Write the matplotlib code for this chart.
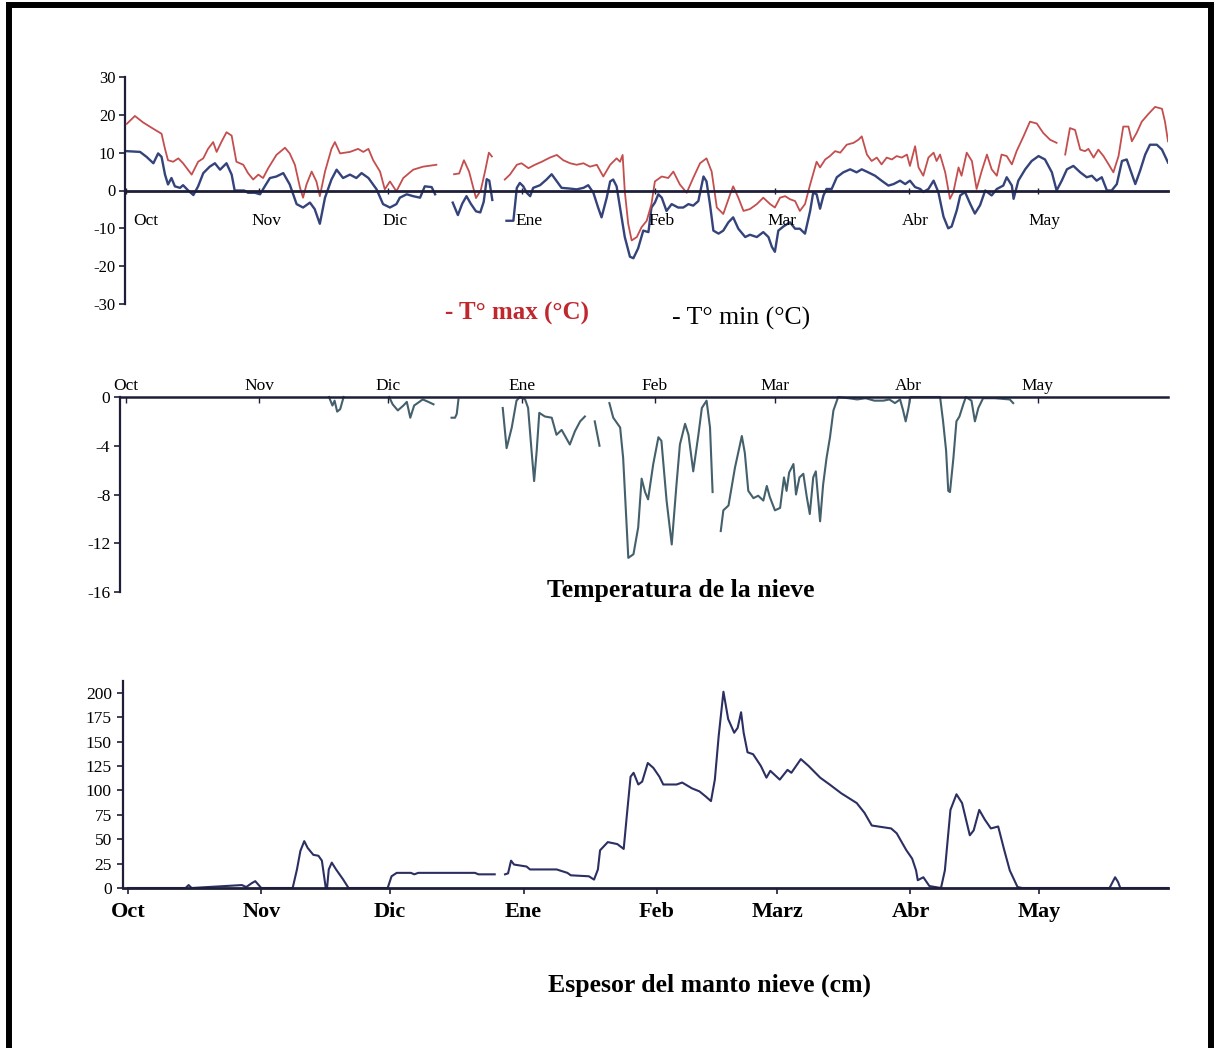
import numpy as np
import matplotlib
matplotlib.use("Agg")
import matplotlib.pyplot as plt
from matplotlib.patches import Rectangle
from matplotlib.transforms import ScaledTranslation

W, H = 1220, 1048
plt.rcParams['font.family'] = ['Liberation Serif', 'DejaVu Serif']
plt.rcParams['axes.unicode_minus'] = False

GAP = np.nan

# ---- time axis: days counted from 1 October ----
month_start = [0, 31, 61, 92, 123, 151, 182, 212]
month_names = ['Oct', 'Nov', 'Dic', 'Ene', 'Feb', 'Mar', 'Abr', 'May']
month_names_depth = ['Oct', 'Nov', 'Dic', 'Ene', 'Feb', 'Marz', 'Abr', 'May']

# ---- daily maximum air temperature (°C) ----
tmax_day = [0.2, 2.1, 4.0, 6.4, 8.3, 9.1, 9.8, 11.0, 12.2, 13.3,
            15.3, 16.8, 18.0, 19.1, 20.3, 21.1, 22.2, 23.4, 24.6, 25.7,
            27.3, 28.4, 29.6, 30.8, 31.9, 33.1, 35.0, 37.0, 38.1, 39.3,
            40.5, 41.2, 42.0, 43.2, 44.3, 45.1, 46.3, 47.8, 48.6, 49.8,
            52.1, 54.0, 55.2, 56.4, 57.5, 59.1, 60.2, 61.4, 62.9, 64.5,
            66.8, 69.1, 72.2,
            74.0,
            76.3, 77.5, 78.6, 79.8, 81.4, 82.5, 83.5, 84.4, 85.1,
            86.5,
            88.1, 89.3, 90.9, 92.0, 93.6, 95.1, 96.7, 98.6, 100.2, 101.7,
            103.3, 104.8, 106.4, 107.9, 109.5, 111.0, 112.6, 114.1, 114.9, 115.5,
            116.0, 116.8, 117.6, 118.8, 119.9, 121.1, 122.2, 123.0, 124.6, 126.1,
            127.3, 128.8, 130.4, 131.9, 133.5, 135.0, 136.2, 137.4, 138.9, 140.5,
            141.2, 142.4, 143.6, 145.1, 146.7, 148.2, 149.8, 150.9, 152.1, 153.3,
            154.4, 155.6, 156.7, 157.9, 159.1, 160.6, 161.4, 162.6, 163.7, 164.9,
            166.1, 167.6, 169.2, 170.3, 171.1, 172.3, 173.4, 174.6, 175.7, 176.9,
            178.1, 179.2, 180.4, 181.6, 182.3, 183.5, 184.3, 185.4, 186.6, 187.8,
            188.5, 189.3, 190.5, 191.6, 192.4, 193.6, 194.3, 195.5, 196.7, 197.8,
            199.0, 200.2, 201.3, 202.5, 203.6, 204.8, 206.0, 207.1, 208.7, 210.2,
            211.8, 213.3, 214.9, 216.4,
            217.4,
            218.4, 219.5, 220.7, 221.9, 223.0, 223.8, 225.0, 226.1, 227.3, 228.5,
            229.6, 230.8, 231.9, 233.1, 233.9, 235.0, 236.2, 237.8, 239.3, 240.9,
            241.6, 242.3]
tmax_val = [17.6, 19.7, 18.0, 16.3, 15.0, 11.0, 8.0, 7.6, 8.5, 7.2,
            4.2, 7.6, 8.5, 11.0, 12.8, 10.2, 12.8, 15.4, 14.5, 7.6,
            6.8, 4.6, 2.9, 4.2, 3.3, 5.9, 9.4, 11.3, 9.8, 6.8,
            0.7, -1.9, 1.6, 5.0, 2.4, -1.5, 5.0, 11.0, 12.8, 9.8,
            10.2, 11.0, 10.2, 11.0, 8.0, 5.0, 0.3, 2.4, -0.2, 3.3,
            5.5, 6.3, 6.8,
            GAP,
            4.3, 4.5, 8.0, 5.0, -2.0, 0.0, 5.0, 10.0, 9.0,
            GAP,
            2.9, 4.2, 6.8, 7.2, 5.9, 6.8, 7.6, 8.7, 9.4, 8.0,
            7.2, 6.8, 7.2, 6.3, 6.8, 3.7, 6.8, 8.5, 7.6, 9.4,
            -0.2, -8.8, -13.2, -12.3, -9.7, -8.0, -3.6, 2.4, 3.7, 3.3,
            5.0, 1.6, -0.6, 3.3, 7.2, 8.5, 5.0, -4.5, -6.2, -1.0,
            1.1, -1.9, -5.4, -4.9, -3.6, -1.9, -3.6, -4.5, -1.9, -1.5,
            -2.3, -2.8, -5.4, -3.6, 1.6, 7.6, 6.1, 8.2, 9.1, 10.4,
            10.0, 12.1, 12.6, 13.4, 14.3, 9.5, 7.8, 8.7, 6.9, 8.7,
            8.2, 9.1, 8.7, 9.5, 6.5, 11.7, 6.1, 3.9, 8.7, 10.0,
            7.8, 9.5, 4.8, -2.2, -0.4, 6.1, 3.9, 10.0, 7.8, 0.4,
            5.2, 9.5, 5.6, 3.9, 9.5, 9.1, 6.9, 10.4, 14.3, 18.2,
            17.7, 15.2, 13.4, 12.6,
            GAP,
            9.5, 16.5, 16.0, 10.8, 10.4, 11.0, 8.7, 10.8, 9.1, 6.9,
            4.8, 9.1, 16.9, 16.9, 13.0, 15.2, 18.2, 20.3, 22.1, 21.6,
            18.2, 13.0]

# ---- daily minimum air temperature (°C) ----
tmin_day = [0.2, 3.3, 4.8, 6.4, 7.5, 8.3, 9.1, 9.8, 10.6, 11.4,
            12.6, 13.3, 14.5, 15.7, 16.8, 18.0, 19.5, 20.7, 21.9, 23.4,
            24.6, 25.3, 26.5, 27.5, 28.4, 30.0, 31.2, 32.3, 33.5, 35.0,
            36.6, 38.1, 39.7, 41.2, 42.8, 43.9, 45.1, 46.3, 47.8, 49.0,
            50.5, 52.1, 53.6, 54.8, 56.4, 58.3, 59.8, 61.4, 62.9, 63.7,
            65.3, 66.8, 68.4, 69.5, 71.1, 71.9,
            74.0,
            76.0, 77.2, 78.2, 79.2, 80.2, 81.4, 82.4, 83.2, 83.9, 84.5, 85.2,
            86.8,
            88.5, 90.1, 90.9, 91.6, 92.4, 93.2, 94.0, 94.7, 96.3, 97.8,
            99.0, 100.2, 101.3, 103.3, 104.8, 106.4, 107.5, 108.7, 109.8, 110.6,
            111.8, 112.6, 113.3, 114.1, 114.9, 116.0, 117.2, 118.0, 119.1, 120.3,
            121.5, 122.2, 123.0, 123.8, 124.6, 125.7, 126.9, 128.4, 129.6, 130.8,
            131.9, 133.1, 134.3, 135.0, 135.8, 136.6, 137.8, 138.9, 140.1, 141.2,
            142.4, 144.0, 145.1, 146.7, 148.2, 149.4, 150.2, 150.9, 151.7, 152.9,
            154.4, 155.6, 156.7, 157.9, 159.1, 159.8, 160.6, 161.4, 162.2, 162.9,
            164.1, 165.3, 166.8, 168.4, 169.9, 171.1, 172.6, 174.2, 175.7, 177.3,
            178.5, 180.0, 181.2, 182.3, 183.5, 184.7, 185.4, 186.6, 187.8, 188.9,
            190.1, 191.2, 192.0, 193.2, 194.0, 195.1, 196.3, 197.4, 198.6, 199.8,
            201.3, 202.5, 204.0, 204.8, 206.0, 206.4, 207.5, 209.1, 210.6, 212.2,
            213.7, 215.3, 216.4, 217.6, 218.8, 220.3, 221.9, 223.4, 224.6, 225.7,
            226.9, 228.1, 229.2, 230.4, 231.6, 232.7, 233.9, 234.7, 235.8, 237.0,
            238.1, 239.7, 240.9, 242.3]
tmin_val = [10.4, 10.2, 8.9, 7.2, 9.8, 8.9, 4.2, 1.6, 3.3, 1.1,
            0.7, 1.4, 0.0, -1.2, 1.1, 4.6, 6.3, 7.2, 5.5, 7.2,
            4.2, 0.0, 0.0, 0.0, -0.6, -0.6, -1.0, 1.1, 3.3, 3.7,
            4.6, 1.6, -3.6, -4.5, -3.2, -4.9, -8.8, -1.9, 2.9, 5.5,
            3.3, 4.2, 3.3, 4.6, 3.3, 0.3, -3.6, -4.5, -3.6, -1.9,
            -1.0, -1.5, -1.9, 1.1, 0.9, -1.0,
            GAP,
            -3.2, -6.5, -3.5, -1.5, -3.5, -5.5, -5.8, -3.0, 3.0, 2.6, -2.5,
            GAP,
            -8.0, -8.0, 0.7, 2.0, 1.1, -0.6, -1.5, 0.7, 1.4, 2.9,
            4.3, 2.4, 0.7, 0.5, 0.3, 0.7, 1.4, -0.6, -4.5, -7.1,
            -1.9, 2.4, 2.9, 1.1, -4.5, -12.3, -17.5, -17.9, -15.3, -10.6,
            -11.0, -4.5, -3.2, -1.0, -1.9, -5.4, -3.6, -4.5, -4.5, -3.6,
            -4.0, -2.8, 3.7, 2.4, -3.6, -10.6, -11.4, -10.6, -8.4, -7.1,
            -10.1, -12.3, -11.7, -12.3, -11.0, -12.3, -14.9, -16.2, -10.6, -9.5,
            -8.4, -10.1, -10.1, -11.4, -5.4, -0.6, -1.0, -4.8, -1.3, 0.4,
            0.4, 3.5, 4.8, 5.6, 4.8, 5.6, 4.8, 3.9, 2.6, 1.3,
            1.7, 2.6, 1.7, 2.6, 0.9, 0.4, -0.4, 0.4, 2.6, -0.4,
            -6.9, -10.0, -9.5, -5.2, -1.3, -0.4, -3.5, -6.1, -3.9, 0.0,
            -1.3, 0.4, 1.3, 3.5, 1.3, -2.2, 2.6, 5.6, 7.8, 9.1,
            8.2, 4.8, 0.0, 2.6, 5.6, 6.5, 4.8, 3.5, 3.9, 2.6,
            3.5, 0.0, 0.0, 1.7, 7.8, 8.2, 4.3, 1.7, 5.2, 9.5,
            12.1, 12.1, 10.8, 7.4]

# ---- snow temperature (°C) ----
snowt_day = [47.2, 48.0, 48.5, 49.1, 49.8, 50.6,
             55.0,
             61.2, 62.0, 63.2, 64.5, 65.3, 66.1, 67.0, 68.2, 69.0, 70.3, 71.5,
             73.5,
             75.7, 76.5, 76.9, 77.3,
             82.0,
             87.6, 88.5, 89.7, 90.8, 91.6, 92.8, 93.5, 94.3, 94.9, 95.5,
             96.1, 97.4, 99.0, 100.1, 101.3, 103.2, 104.4, 105.6, 106.7,
             107.8,
             109.0, 110.1,
             111.2,
             112.4, 113.3, 114.9, 115.6, 116.4, 116.8, 118.0, 119.1, 119.9, 120.7,
             121.4, 122.6, 123.8, 124.5, 125.7, 126.9, 128.0, 128.8, 130.0, 130.8,
             131.9, 133.1, 133.9, 135.0, 135.8, 136.4,
             137.3,
             138.3, 138.9, 140.1, 141.6, 143.2, 143.9, 144.7, 145.9, 147.0, 148.2,
             149.0, 149.7, 150.9, 152.1, 153.0, 153.6, 154.2, 155.2, 155.8, 156.6,
             157.5, 158.3, 159.0, 159.8, 160.4, 161.4, 162.1, 162.9, 163.7, 164.5,
             165.6, 168.0, 170.0, 172.0, 174.0, 176.1, 177.5, 178.8, 180.0, 180.7,
             181.3, 181.9, 182.4, 186.0, 189.3, 190.0, 190.7, 191.2, 191.6, 192.4,
             193.1, 193.8, 194.7, 195.3, 196.6, 197.4, 198.2, 199.3, 202.0, 205.5,
             206.3]
snowt_val = [0.0, -0.7, -0.3, -1.2, -1.0, 0.0,
             GAP,
             0.0, -0.6, -1.1, -0.7, -0.4, -1.7, -0.7, -0.4, -0.2, -0.4, -0.6,
             GAP,
             -1.7, -1.7, -1.4, -0.2,
             GAP,
             -0.9, -4.2, -2.5, -0.3, 0.0, -0.2, -0.9, -4.4, -6.9, -4.4,
             -1.3, -1.6, -1.7, -3.1, -2.7, -3.9, -2.8, -2.0, -1.6,
             GAP,
             -2.0, -4.0,
             GAP,
             -0.5, -1.7, -2.5, -5.0, -10.4, -13.2, -12.9, -10.7, -6.7, -7.8,
             -8.4, -5.5, -3.3, -3.6, -8.5, -12.1, -7.2, -3.9, -2.2, -3.1,
             -6.1, -3.1, -0.9, -0.3, -2.5, -7.8,
             GAP,
             -11.0, -9.3, -8.9, -5.8, -3.2, -4.6, -7.7, -8.3, -8.1, -8.5,
             -7.3, -8.2, -9.3, -9.1, -6.6, -7.7, -6.2, -5.5, -8.0, -6.6,
             -6.3, -8.2, -9.6, -6.6, -6.1, -10.2, -7.2, -5.0, -3.3, -1.1,
             0.0, -0.1, -0.2, -0.1, -0.3, -0.3, -0.2, -0.5, -0.2, -1.1,
             -2.0, -1.0, 0.0, 0.0, 0.0, -2.0, -4.4, -7.7, -7.8, -5.0,
             -2.0, -1.6, -0.6, 0.0, -0.3, -2.0, -0.9, -0.1, -0.1, -0.2,
             -0.5]

# ---- snow depth (cm) ----
depth_day = [0.0, 13.4, 14.1, 14.8, 26.5, 27.5, 28.8, 29.6, 30.4, 31.0,
             38.3, 39.3, 40.1, 41.0, 41.8, 43.1, 44.3, 45.1, 46.0, 46.3,
             46.7, 47.4, 48.4, 50.0, 51.3, 60.4, 61.3, 62.5, 65.8, 66.6,
             67.5, 80.7, 81.5, 85.3,
             86.5,
             87.7, 88.4, 89.1, 89.8, 92.7, 93.5, 99.7, 102.2, 103.0, 107.2,
             108.4, 109.3, 109.8, 111.6, 113.8, 115.3, 116.0, 116.9, 117.6, 118.7,
             119.6, 120.9, 122.2, 123.6, 124.5, 127.6, 128.9, 131.2, 132.9, 134.3,
             135.6, 136.5, 137.4, 138.5, 139.6, 141.0, 141.8, 142.6, 143.2, 144.1,
             145.4, 147.2, 148.5, 149.4, 151.6, 153.4, 154.3, 156.5, 158.3, 161.0,
             163.2, 165.9, 169.5, 171.3, 173.0, 177.5, 178.8, 181.0, 182.4, 183.3,
             183.7, 185.0, 186.4, 189.1, 190.0, 191.3, 192.7, 194.0, 195.8, 196.7,
             198.0, 199.3, 200.7, 202.4, 203.8, 205.1, 206.9, 208.0, 228.3, 229.0,
             229.6, 230.3, 230.8, 241.9]
depth_val = [0, 0, 3, 0, 3, 1, 5, 7, 3, 0,
             0, 19, 38, 48, 41, 34, 33, 28, 0, 0,
             19, 26, 19, 9, 0, 0, 12, 15.5, 15.5, 14,
             15.5, 15.5, 14, 14,
             GAP,
             14, 15, 28, 24, 22, 19, 19, 15.5, 13, 12,
             8.6, 19, 38.6, 47, 45, 40, 73, 114, 118, 106,
             109, 128, 123, 114, 106, 106, 108, 102, 99, 94,
             89, 111, 156, 201, 173, 159, 164, 180, 159, 139,
             137, 125, 113, 120, 111, 121, 118, 132, 125, 113,
             106, 97, 87, 77, 64, 61, 56, 39, 30, 18,
             8, 11, 2, 0, 18, 80, 96, 87, 54, 59,
             80, 70, 61, 63, 39, 18, 1, 0, 0, 6,
             11, 6, 0, 0]

# ---- colours ----
RED = '#c44e4e'
NAVY = '#34437a'
AXIS = '#1e1e38'
SNOWT = '#44606c'
DEPTH = '#2b2f62'

fig = plt.figure(figsize=(W / 100, H / 100), dpi=100)
fig.patch.set_facecolor('white')


def axes_px(left, top, right, bottom):
    return fig.add_axes([left / W, 1 - bottom / H, (right - left) / W, (bottom - top) / H])


def shift(ax, dx_px):
    return ax.transData + ScaledTranslation(dx_px / 100, 0, fig.dpi_scale_trans)


# ================= air temperature =================
ax1 = axes_px(125, 77, 1168, 304)
ax1.set_xlim(-0.2, 242.3)
ax1.set_ylim(-30, 30)
for s in ('top', 'right'):
    ax1.spines[s].set_visible(False)
ax1.spines['left'].set_color(AXIS)
ax1.spines['left'].set_linewidth(1.6)
ax1.spines['bottom'].set_position(('data', 0))
ax1.spines['bottom'].set_color(AXIS)
ax1.spines['bottom'].set_linewidth(2.0)
ax1.spines['bottom'].set_zorder(5)
ax1.set_yticks(range(-30, 31, 10))
ax1.tick_params(axis='y', direction='out', length=4, width=1.2, pad=3,
                labelsize=12, color=AXIS)
ax1.set_xticks(month_start)
ax1.tick_params(axis='x', direction='inout', length=4, width=1.0,
                labelbottom=False, color=AXIS)
ax1.plot(tmax_day, tmax_val, color=RED, lw=1.3, zorder=3)
ax1.plot(tmin_day, tmin_val, color=NAVY, lw=1.7, zorder=2)
for d, name in zip(month_start, month_names):
    ax1.text(d, -8.0, name, transform=shift(ax1, 7),
             ha='left' if d == 0 else 'center', va='center', fontsize=12.5)

fig.text(445 / W, 1 - 313 / H, '- T° max (°C)', color='#c0282d', fontsize=18,
         fontweight='bold', ha='left', va='center')
fig.text(672 / W, 1 - 318 / H, '- T° min (°C)', color='black', fontsize=18.5,
         ha='left', va='center')

# ================= snow temperature =================
ax2 = axes_px(120, 397, 1168, 592)
ax2.set_xlim(-1.4, 242.3)
ax2.set_ylim(-16, 0)
for s in ('bottom', 'right'):
    ax2.spines[s].set_visible(False)
ax2.spines['top'].set_color(AXIS)
ax2.spines['top'].set_linewidth(1.8)
ax2.spines['left'].set_color(AXIS)
ax2.spines['left'].set_linewidth(1.6)
ax2.xaxis.tick_top()
ax2.set_xticks(month_start)
ax2.set_xticklabels(month_names)
ax2.tick_params(axis='x', direction='in', length=4, width=1.0, pad=2,
                labelsize=12.5, color=AXIS)
ax2.set_yticks([0, -4, -8, -12, -16])
ax2.tick_params(axis='y', direction='out', length=4, width=1.2, pad=3,
                labelsize=12.5, color=AXIS)
ax2.plot(snowt_day, snowt_val, color=SNOWT, lw=1.5, clip_on=False)

fig.text(681 / W, 1 - 591 / H, 'Temperatura de la nieve', fontsize=18.5,
         fontweight='bold', ha='center', va='center')

# ================= snow depth =================
ax3 = axes_px(123, 681, 1168, 888)
ax3.set_xlim(-1.16, 241.9)
ax3.set_ylim(0, 212)
for s in ('top', 'right'):
    ax3.spines[s].set_visible(False)
ax3.spines['left'].set_color(AXIS)
ax3.spines['left'].set_linewidth(1.6)
ax3.spines['bottom'].set_color(AXIS)
ax3.spines['bottom'].set_linewidth(2.0)
ax3.set_yticks(range(0, 201, 25))
ax3.tick_params(axis='y', direction='out', length=4, width=1.2, pad=4,
                labelsize=12.5, color=AXIS)
ax3.set_xticks(month_start)
ax3.set_xticklabels(month_names_depth, fontweight='bold')
ax3.tick_params(axis='x', direction='out', length=4, width=1.2, pad=6,
                labelsize=16, color=AXIS)
ax3.plot(depth_day, depth_val, color=DEPTH, lw=1.5, clip_on=False)

fig.text(710 / W, 1 - 985 / H, 'Espesor del manto nieve (cm)', fontsize=18.5,
         fontweight='bold', ha='center', va='center')

# page frame (open at the bottom edge)
fig.add_artist(Rectangle((9 / W, -0.05), (1211 - 9) / W, 1.05 - 5 / H,
                         transform=fig.transFigure, fill=False,
                         lw=4.3, ec='black'))

fig.savefig('out.png', dpi=100, facecolor='white')
